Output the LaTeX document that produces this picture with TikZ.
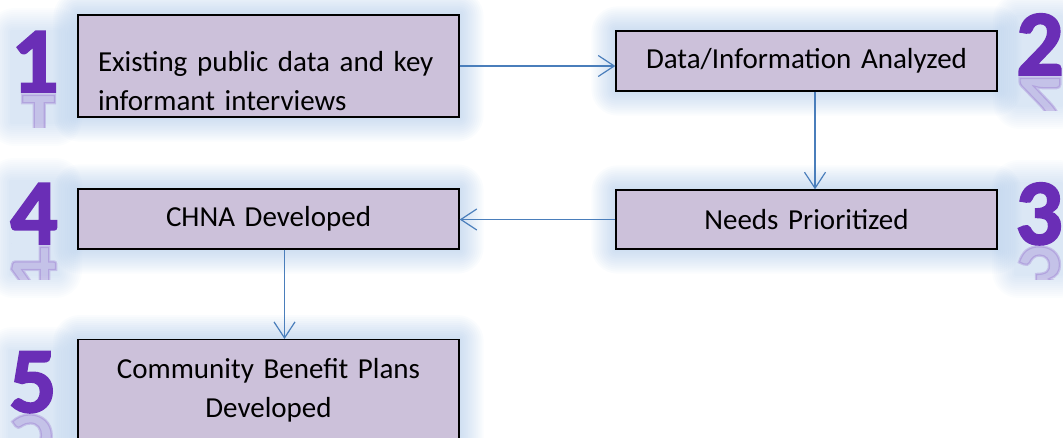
\documentclass[tikz,border=0pt]{standalone}
\usepackage{fontspec}
\setmainfont{Carlito}[WordSpace=0.8]
\newfontfamily\digitfont{Carlito}[UprightFont=* Bold, FakeBold=2.5]
\usetikzlibrary{arrows.meta,calc}
\definecolor{boxfill}{HTML}{CCC1DA}
\definecolor{arrowc}{HTML}{4A7EBB}
\definecolor{digitc}{HTML}{6A2EB6}
\definecolor{glowc}{HTML}{8FB4E0}
\pgfdeclarelayer{background}
\pgfsetlayers{background,main}
\newcommand\myglow[3]{%
  \foreach \k in {1,...,12}{%
    \fill[glowc, opacity=#3, rounded corners={2.2pt*\k}] ($(#1)+(-2*\k,2*\k)$) rectangle ($(#2)+(2*\k,-2*\k)$);}}
\newcommand\bigdigit[3]{%
  \node[digit] (d#1) at (#2,#3) {#1};
  \begin{scope}
    \clip (#2-40,#3+2) rectangle (#2+40,#3+36);
    \begin{scope}[shift={(#2,#3+3)}, yscale=-1]
      \node[digit, transform shape, opacity=0.2] (r#1) at (0,0) {#1};
    \end{scope}
  \end{scope}}
\begin{document}
\begin{tikzpicture}[x=1pt,y=-1pt,
  stepbox/.style={draw=black, line width=1.4pt, fill=boxfill, minimum width=381pt,
    text width=341pt, inner xsep=20pt, inner ysep=0pt, align=center,
    font=\fontsize{29}{39}\selectfont},
  link/.style={draw=arrowc, line width=1.2pt, -{Straight Barb[length=16pt,width=21pt]}},
  digit/.style={text=digitc, font=\digitfont\fontsize{93}{93}\selectfont, inner sep=0pt, anchor=base},
]
\useasboundingbox (0,0) rectangle (1063,438);

\node[stepbox, minimum height=102pt, align=left, text depth=9pt] (b1) at (268.5,66)
  {Existing public data and key\\informant interviews};
\node[stepbox, minimum height=60pt] (b2) at (806.5,61) {Data/Information Analyzed};
\node[stepbox, minimum height=59pt] (b3) at (806.5,219.5) {Needs Prioritized};
\node[stepbox, minimum height=60pt] (b4) at (268.5,219) {CHNA Developed};
\node[stepbox, minimum height=101pt, anchor=north] (b5) at (268.5,339)
  {Community Benefit Plans\\Developed};

\draw[link] (b1.east) -- (b1.east -| b2.west);
\draw[link] ($(b2.south)+(8.5,0)$) -- ($(b3.north)+(8.5,0)$);
\draw[link] (b3.west) -- (b3.west -| b4.east);
\draw[link] ($(b4.south)+(16,0)$) -- ($(b5.north)+(16,0)$);

\bigdigit{1}{35}{92}
\bigdigit{2}{1040}{75}
\bigdigit{3}{1039}{244}
\bigdigit{4}{34}{244}
\bigdigit{5}{33}{412}

\begin{pgfonlayer}{background}
  \myglow{b1.south west}{b1.north east}{0.045}
  \myglow{b2.south west}{b2.north east}{0.045}
  \myglow{b3.south west}{b3.north east}{0.045}
  \myglow{b4.south west}{b4.north east}{0.045}
  \myglow{b5.south west}{b5.north east}{0.045}
  \myglow{12,122}{58,32}{0.03}
  \myglow{1017,105}{1061,17}{0.03}
  \myglow{1016,274}{1061,184}{0.03}
  \myglow{11,274}{58,182}{0.03}
  \myglow{10,438}{56,351}{0.03}
\end{pgfonlayer}
\end{tikzpicture}
\end{document}
